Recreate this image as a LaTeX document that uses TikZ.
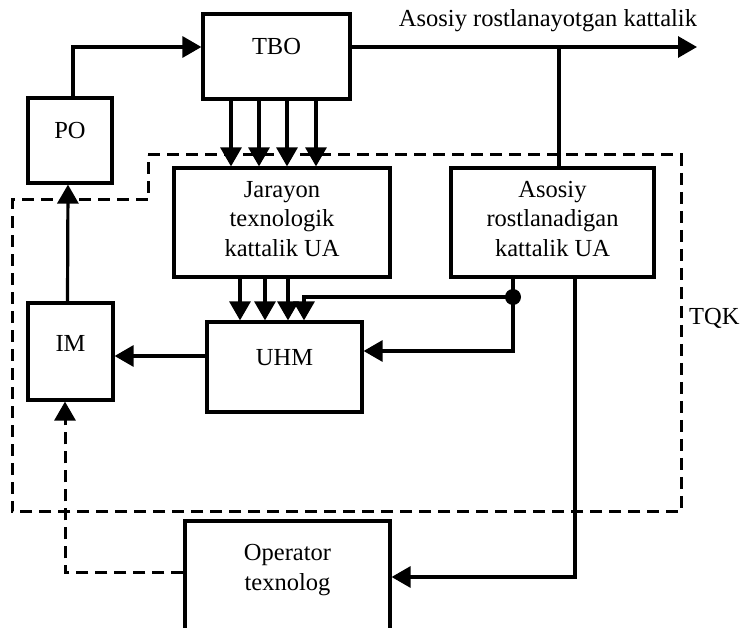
\documentclass[tikz,border=0pt]{standalone}
\usepackage{fontspec}
\setmainfont{Liberation Serif}
\usetikzlibrary{arrows.meta}
\begin{document}
\begin{tikzpicture}[x=1pt,y=-1pt,
  box/.style={draw, line width=3.2pt, inner sep=0pt},
  lbl/.style={font=\fontsize{24.5}{29.5}\selectfont, align=center, inner sep=0pt},
  ln/.style={line width=3.2pt},
  arr/.style={ln, -{Triangle[length=19pt,width=21pt]}},
  dsh/.style={line width=3pt, dash pattern=on 12pt off 7pt}]
\useasboundingbox (0,0) rectangle (740,628);
\clip (0,0) rectangle (740,628);
% boxes
\node[box, minimum width=147pt, minimum height=85pt] (tbo) at (276.5,56.5) {};
\node[box, minimum width=84pt, minimum height=85pt] (po) at (70,140.5) {};
\node[box, minimum width=216pt, minimum height=109pt] (jar) at (282,222.5) {};
\node[box, minimum width=203pt, minimum height=109pt] (aso) at (552.5,222.5) {};
\node[box, minimum width=155pt, minimum height=90pt] (uhm) at (284.5,367) {};
\node[box, minimum width=85pt, minimum height=97pt] (im) at (70.5,351.5) {};
\node[box, minimum width=205pt, minimum height=112pt] (op) at (287.5,577) {};
% texts
\node[lbl] (tbot) at ([yshift=9.5pt]tbo.center) {TBO};
\node[lbl] (pot) at ([yshift=10pt]po.center) {PO};
\node[lbl] (jart) at ([yshift=3.5pt]jar.center) {Jarayon\\texnologik\\kattalik UA};
\node[lbl] (asot) at ([yshift=3.5pt]aso.center) {Asosiy\\rostlanadigan\\kattalik UA};
\node[lbl] (uhmt) at ([yshift=9pt]uhm.center) {UHM};
\node[lbl] (imt) at ([yshift=8.5pt]im.center) {IM};
\node[lbl] (opt) at ([yshift=7pt]op.center) {Operator\\texnolog};
\node[lbl] (outt) at (548,21) {Asosiy rostlanayotgan kattalik};
\node[lbl, anchor=west] (tqk) at (689,318) {TQK};
% TQK boundary
\draw[dsh] (148,155) -- (681,155) -- (681,512) -- (12,512) -- (12,200) -- (148,200) -- cycle;
% connectors
\coordinate (out) at (697,47);
\coordinate (tap) at (559,47);
\coordinate (dot) at (513,297);
\draw[arr] ([xshift=3pt]po.north) |- ([yshift=9.5pt]tbo.west);
\draw[arr] ([yshift=9.5pt]tbo.east) -- (out);
\draw[ln] (tap) -- (tap |- aso.north);
\foreach \x in {231,259,287,316}
  \draw[arr] (tbo.south -| \x,0) -- (jar.north -| \x,0);
\foreach \x in {240,265,288}
  \draw[arr] (jar.south -| \x,0) -- (uhm.north -| \x,0);
\draw[ln] (aso.south -| dot) -- (dot);
\fill (dot) circle (8pt);
\draw[arr] (dot) -| (uhm.north -| 304,0);
\draw[arr] (dot) |- (uhm.east |- 0,351);
\draw[arr] (aso.south -| 575,0) |- (op.east);
\draw[arr] (uhm.west |- 0,356) -- (im.east |- 0,356);
\draw[arr] ([xshift=-3pt]im.north) -- ([xshift=-2pt]po.south);
\draw[arr, dsh] (op.west |- 0,573) -| ([xshift=-5.5pt]im.south);
\end{tikzpicture}
\end{document}
